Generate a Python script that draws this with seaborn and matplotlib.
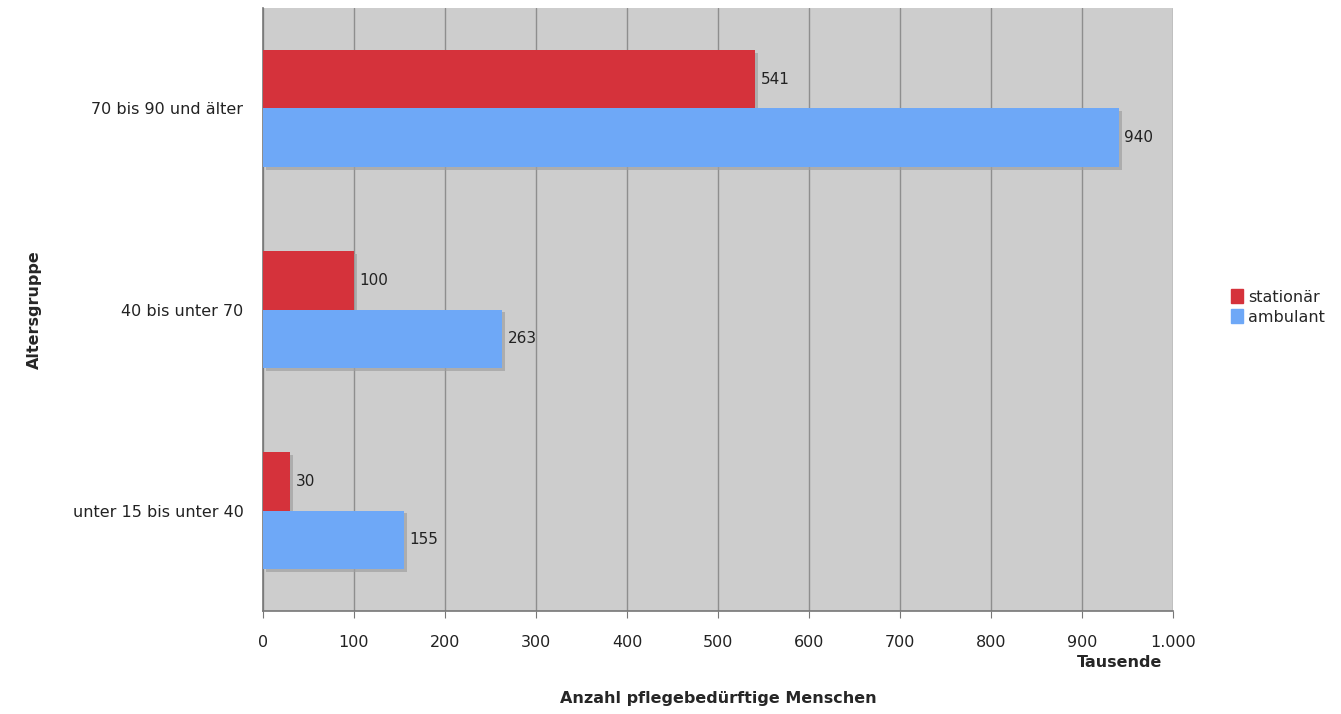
import pandas as pd
import matplotlib
matplotlib.use("Agg")
import matplotlib.pyplot as plt
import matplotlib.patheffects as pe
from matplotlib.ticker import FuncFormatter, MultipleLocator, FixedLocator
import seaborn as sns

# data (Tausende)
altersgruppen = ["70 bis 90 und älter", "40 bis unter 70", "unter 15 bis unter 40"]
stationaer = [541, 100, 30]
ambulant = [940, 263, 155]
serien = ["stationär", "ambulant"]
farben = {"stationär": "#d5323b", "ambulant": "#6ea8f7"}

df = pd.DataFrame({
    "Altersgruppe": altersgruppen * 2,
    "Wert": stationaer + ambulant,
    "Art": [serien[0]] * 3 + [serien[1]] * 3,
})

sns.set_style("white")
plt.rcParams["font.family"] = ["DejaVu Sans"]

fig = plt.figure(figsize=(13.41, 7.14), dpi=100)
ax = fig.add_axes([0.196, 0.144, 0.679, 0.845])
ax.set_facecolor("#cdcdcd")

sns.barplot(data=df, y="Altersgruppe", x="Wert", hue="Art", order=altersgruppen,
            hue_order=serien, palette=farben, orient="h", width=0.58,
            saturation=1, ax=ax, legend=False, zorder=3, edgecolor="none", linewidth=0)

for c in ax.containers:
    for p in c:
        p.set_path_effects([pe.SimplePatchShadow(offset=(2, -2), shadow_rgbFace="#a0a0a0", alpha=0.7),
                            pe.Normal()])
    ax.bar_label(c, padding=4, fontsize=11, color="#222222")

ax.set_xlim(0, 1000)
ax.set_ylim(2.5, -0.5)
ax.xaxis.set_major_locator(MultipleLocator(100))
ax.xaxis.set_major_formatter(FuncFormatter(lambda v, p: f"{int(v):,}".replace(",", ".")))
ax.grid(axis="x", color="#8e8e8e", linewidth=1, zorder=0)
ax.set_axisbelow(True)

ax.yaxis.set_minor_locator(FixedLocator([-0.5, 0.5, 1.5, 2.5]))
ax.tick_params(axis="y", which="major", length=0, labelsize=11.5, pad=14, colors="#222222")
ax.tick_params(axis="y", which="minor", length=5, color="#777777", direction="out")
ax.tick_params(axis="x", length=5, color="#777777", labelsize=11.5, pad=12, colors="#222222",
               direction="out", bottom=True)

for s in ["top", "right"]:
    ax.spines[s].set_visible(False)
for s in ["left", "bottom"]:
    ax.spines[s].set_color("#777777")
    ax.spines[s].set_linewidth(1.2)

ax.set_ylabel("Altersgruppe", fontsize=11.5, fontweight="bold", labelpad=22)
ax.set_xlabel("Anzahl pflegebedürftige Menschen", fontsize=11.5, fontweight="bold", labelpad=30)
fig.text(0.835, 0.072, "Tausende", fontsize=11.5, fontweight="bold", ha="center", va="center")

handles = [plt.Rectangle((0, 0), 1, 1, color=farben[s]) for s in serien]
fig.legend(handles, serien, loc="center left", bbox_to_anchor=(0.907, 0.57), frameon=False,
           fontsize=11.5, handlelength=0.8, handleheight=0.9, handletextpad=0.3, labelspacing=0.3)

fig.savefig("out.png", dpi=100, facecolor="white")
